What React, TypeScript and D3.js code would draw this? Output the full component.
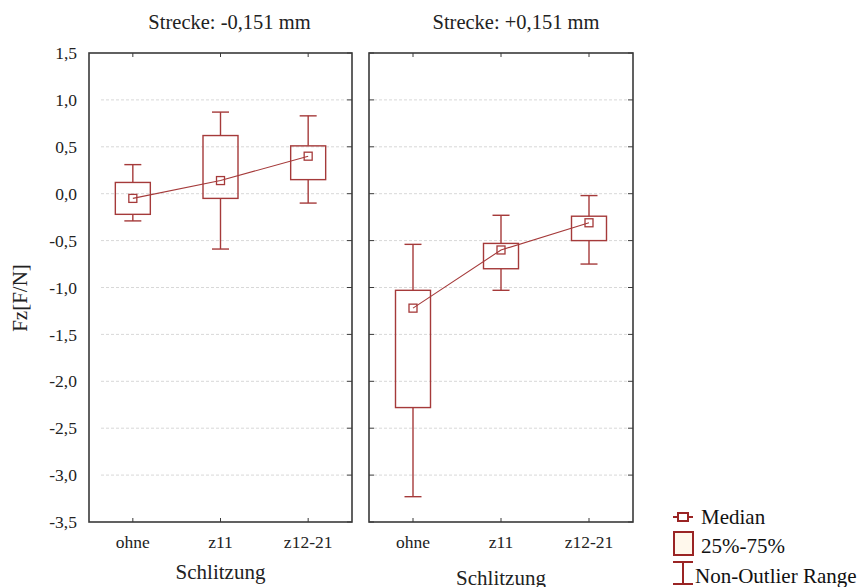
import React from "react";
import * as d3 from "d3";

const categories = ["ohne", "z11", "z12-21"];
const panelTitles = ["Strecke: -0,151 mm", "Strecke: +0,151 mm"];
const yTicks = [1.5, 1.0, 0.5, 0.0, -0.5, -1.0, -1.5, -2.0, -2.5, -3.0, -3.5];

// Left panel (Strecke -0,151 mm)
const leftMedian = [-0.05, 0.14, 0.40];
const leftQ1 = [-0.22, -0.05, 0.15];
const leftQ3 = [0.12, 0.62, 0.51];
const leftMin = [-0.29, -0.59, -0.10];
const leftMax = [0.31, 0.87, 0.83];

// Right panel (Strecke +0,151 mm)
const rightMedian = [-1.22, -0.60, -0.31];
const rightQ1 = [-2.28, -0.80, -0.50];
const rightQ3 = [-1.03, -0.53, -0.24];
const rightMin = [-3.23, -1.03, -0.75];
const rightMax = [-0.54, -0.23, -0.02];

const legendLabels = ["Median", "25%-75%", "Non-Outlier Range"];

const RED = "#a53a3a";
const FRAME = "#3a3a3a";
const FONT = "'Liberation Serif', 'Times New Roman', serif";

const fmt = (v: number) => v.toFixed(1).replace(".", ",");

function Panel({
  x0, x1, title, median, q1, q3, mn, mx, showYLabels, leftTicks, rightTicks, gridStart, xTitleY,
}: any) {
  const top = 53, bottom = 522;
  const y = d3.scaleLinear().domain([-3.5, 1.5]).range([bottom, top]);
  const x = d3.scalePoint<string>().domain(categories).range([x0, x1]).padding(0.5);
  const bw = 35, cw = 17, ms = 8;
  const line = d3.line<number>().x((_, i) => x(categories[i])!).y((d) => y(d));
  const cx = (x0 + x1) / 2;
  return (
    <g>
      <text x={cx + (x0 < 200 ? 9 : 15)} y={29} textAnchor="middle" fontFamily={FONT} fontSize={20.5} fill="#222">{title}</text>
      {yTicks.slice(1, -1).map((t) => (
        <line key={"g" + t} x1={gridStart} x2={x1 - 5} y1={y(t)} y2={y(t)} stroke="#d8d8d8" strokeWidth={1} strokeDasharray="3,2" />
      ))}
      {yTicks.map((t) => (
        <g key={"t" + t}>
          {leftTicks && <line x1={x0} x2={x0 + 5} y1={y(t)} y2={y(t)} stroke={FRAME} />}
          {rightTicks && <line x1={x1 - 5} x2={x1} y1={y(t)} y2={y(t)} stroke={FRAME} />}
          {showYLabels && (
            <text x={77} y={y(t)} dy="0.35em" textAnchor="end" fontFamily={FONT} fontSize={17.5} fill="#222">{fmt(t)}</text>
          )}
        </g>
      ))}
      {categories.map((c) => (
        <g key={"c" + c}>
          <line x1={x(c)} x2={x(c)} y1={top} y2={top + 4} stroke={FRAME} />
          <line x1={x(c)} x2={x(c)} y1={bottom} y2={bottom - 4} stroke={FRAME} />
          <text x={x(c)} y={bottom + 20} dy="0.35em" textAnchor="middle" fontFamily={FONT} fontSize={17.5} fill="#222">{c}</text>
        </g>
      ))}
      <rect x={x0} y={top} width={x1 - x0} height={bottom - top} fill="none" stroke={FRAME} strokeWidth={1.6} />
      {categories.map((c, i) => {
        const px = x(c)!;
        return (
          <g key={"b" + c} stroke={RED} fill="none" strokeWidth={1.4}>
            <line x1={px} x2={px} y1={y(mx[i])} y2={y(q3[i])} />
            <line x1={px} x2={px} y1={y(q1[i])} y2={y(mn[i])} />
            <line x1={px - cw / 2} x2={px + cw / 2} y1={y(mx[i])} y2={y(mx[i])} />
            <line x1={px - cw / 2} x2={px + cw / 2} y1={y(mn[i])} y2={y(mn[i])} />
            <rect x={px - bw / 2} y={y(q3[i])} width={bw} height={y(q1[i]) - y(q3[i])} />
          </g>
        );
      })}
      <path d={line(median) || ""} fill="none" stroke={RED} strokeWidth={1.1} />
      {categories.map((c, i) => (
        <rect key={"m" + c} x={x(c)! - ms / 2} y={y(median[i]) - ms / 2} width={ms} height={ms} fill="none" stroke={RED} strokeWidth={1.3} />
      ))}
      <text x={cx} y={xTitleY} textAnchor="middle" fontFamily={FONT} fontSize={21} fill="#222">Schlitzung</text>
    </g>
  );
}

export default function App() {
  return (
    <svg width={866} height={587} style={{ position: "absolute", left: 0, top: 0, background: "#fff" }}>
      <Panel x0={89} x1={352} title={panelTitles[0]} median={leftMedian} q1={leftQ1} q3={leftQ3} mn={leftMin} mx={leftMax}
        showYLabels={true} leftTicks={false} rightTicks={true} gridStart={101} xTitleY={579} />
      <Panel x0={369} x1={633} title={panelTitles[1]} median={rightMedian} q1={rightQ1} q3={rightQ3} mn={rightMin} mx={rightMax}
        showYLabels={false} leftTicks={true} rightTicks={true} gridStart={374} xTitleY={585} />
      <text transform="translate(27,298) rotate(-90)" textAnchor="middle" fontFamily={FONT} fontSize={21} fill="#222">Fz[F/N]</text>
      <g>
        <line x1={673} x2={693} y1={517} y2={517} stroke="#9a2424" strokeWidth={2} />
        <rect x={678} y={513} width={10} height={8} fill="#fff" stroke="#9a2424" strokeWidth={2} />
        <text x={701} y={517} dy="0.35em" fontFamily={FONT} fontSize={21} fill="#111">{legendLabels[0]}</text>
        <rect x={674} y={532} width={19} height={23} fill="#fff8ec" stroke="#9a2424" strokeWidth={2} />
        <text x={701} y={546} dy="0.35em" fontFamily={FONT} fontSize={21} fill="#111">{legendLabels[1]}</text>
        <line x1={673} x2={693} y1={562} y2={562} stroke="#9a2424" strokeWidth={2} />
        <line x1={683} x2={683} y1={562} y2={584} stroke="#9a2424" strokeWidth={2} />
        <line x1={673} x2={693} y1={584} y2={584} stroke="#9a2424" strokeWidth={2} />
        <text x={695} y={576} dy="0.35em" fontFamily={FONT} fontSize={21} fill="#111">{legendLabels[2]}</text>
      </g>
    </svg>
  );
}
